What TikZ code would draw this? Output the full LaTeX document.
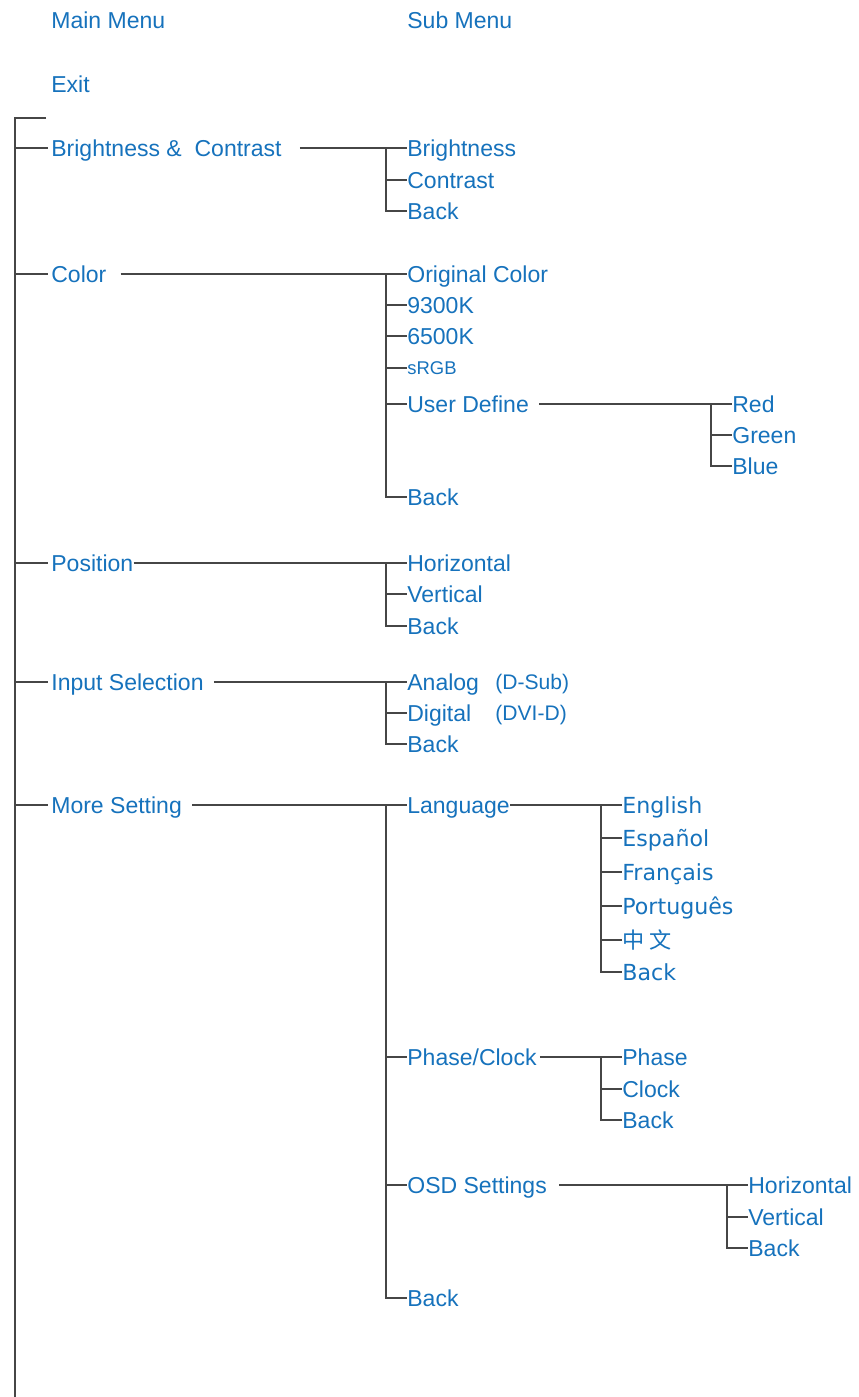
\documentclass[tikz,border=0pt]{standalone}
\usepackage{fontspec}
\setmainfont{Liberation Sans}
\newfontfamily\langfont{DejaVu Sans}
\newfontfamily\cjkfont{Noto Sans CJK SC}
\usetikzlibrary{positioning,calc}

\definecolor{menublue}{RGB}{22,114,188}
\definecolor{treegray}{RGB}{70,70,70}

\tikzset{
	entry/.style={anchor=west, inner sep=0pt, text=menublue, text height=9.4pt, text depth=0pt,
		font=\fontsize{13.1}{15}\selectfont},
	langentry/.style={entry, font=\langfont\fontsize{12.6}{15}\selectfont},
	noteentry/.style={entry, text height=8.6pt, font=\fontsize{12}{14}\selectfont},
	smallentry/.style={entry, text height=7.5pt, font=\fontsize{10.5}{12}\selectfont},
	treeline/.style={draw=treegray, line width=1.3pt},
}

\begin{document}
\begin{tikzpicture}[x=0.02cm, y=-0.02cm]
		\useasboundingbox (0,0) rectangle (859,1397);
		% headings
		\node[entry] (mainmenu) at (51,20) {Main Menu};
		\node[entry] (submenu) at (407,20) {Sub Menu};
		\node[entry] (exit) at (51,84) {Exit};
		% main menu
		\foreach \n/\y/\t in {
			bc/148/{Brightness \&\ \ Contrast},
			col/274/Color,
			pos/563/Position,
			inp/682/Input Selection,
			more/805/More Setting}{
			\node[entry] (\n) at (51,\y) {\t};
		}
		% sub menus
		\foreach \n/\y/\t in {
			b1/148/Brightness, b2/180/Contrast, b3/211/Back,
			c1/274/Original Color, c2/305/9300K, c3/336/6500K, c5/404/User Define, c6/497/Back,
			p1/563/Horizontal, p2/594/Vertical, p3/626/Back,
			i1/682/Analog, i2/713/Digital, i3/744/Back,
			m1/805/Language, m2/1057/{Phase/Clock}, m3/1185/OSD Settings, m4/1298/Back}{
			\node[entry] (\n) at (407,\y) {\t};
		}
		\node[smallentry] (c4) at (407,368) {sRGB};
		\node[noteentry] (i1note) at (495,682) {(D-Sub)};
		\node[noteentry] (i2note) at (495,713) {(DVI-D)};
		% third level
		\foreach \n/\x/\y/\t in {
			u1/732/404/Red, u2/732/435/Green, u3/732/466/Blue,
			h1/622/1057/Phase, h2/622/1089/Clock, h3/622/1120/Back,
			o1/748/1185/Horizontal, o2/748/1217/Vertical, o3/748/1248/Back}{
			\node[entry] (\n) at (\x,\y) {\t};
		}
		\foreach \n/\y/\t in {
			l1/805/English, l2/838/Español, l3/872/Français,
			l4/906/Português, l5/940/{\cjkfont 中\ 文}, l6/972/Back}{
			\node[langentry] (\n) at (622,\y) {\t};
		}
		% trunk
		\coordinate (trunktop) at (15,118);
		\coordinate (trunkend) at (15,1397);
		\coordinate (toptick) at (46,118);
		\draw[treeline] (toptick) -- (trunktop) -- (trunkend);
		\foreach \n in {bc,col,pos,inp,more}
			\draw[treeline] (trunktop |- \n.west) -- ([xshift=-0.06cm]\n.west);
		% branches: parent/first/last/gap
		\foreach \a/\b/\c/\g in {
			bc/b1/b3/0.36cm, col/c1/c6/0.28cm, pos/p1/p3/0cm,
			inp/i1/i3/0.2cm, more/m1/m4/0.2cm, c5/u1/u3/0.2cm,
			m1/l1/l6/0cm, m2/h1/h3/0.06cm, m3/o1/o3/0.24cm}{
			\draw[treeline] ([xshift=\g]\a.east) -- (\b.west);
			\draw[treeline] ([xshift=-0.42cm]\b.west) |- (\c.west);
		}
		\foreach \n in {b2,c2,c3,c4,c5,p2,i2,m2,m3,u2,l2,l3,l4,l5,h2,o2}
			\draw[treeline] ([xshift=-0.42cm]\n.west) -- (\n.west);
	\end{tikzpicture}
\end{document}
